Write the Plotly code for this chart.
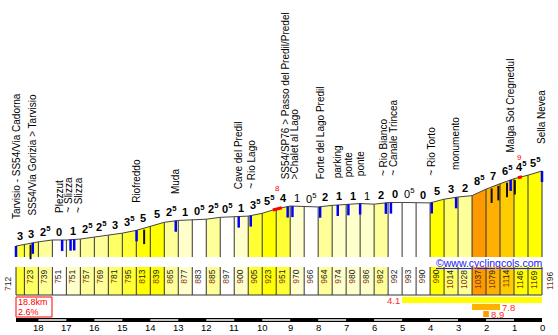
import numpy as np
import plotly.graph_objects as go

# ---------------- data ----------------
km = [18.8, 18.5, 18.0, 17.5, 17.0, 16.5, 16.0, 15.5, 15.0, 14.5, 14.0, 13.5, 13.0,
      12.5, 12.0, 11.5, 11.0, 10.5, 10.0, 9.5, 9.0, 8.5, 8.0, 7.5, 7.0, 6.5, 6.0,
      5.5, 5.0, 4.5, 4.0, 3.5, 3.0, 2.5, 2.0, 1.5, 1.0, 0.5, 0.0]
elev = [712, 723, 739, 751, 751, 757, 769, 781, 795, 813, 839, 865, 877, 883, 885,
        897, 900, 905, 923, 951, 970, 966, 964, 974, 980, 986, 982, 992, 993, 990,
        990, 1014, 1028, 1037, 1079, 1114, 1146, 1169, 1196]
grad_shown = [3, 3, 2.5, 0, 1, 2.5, 2.5, 3, 3.5, 5, 5, 2.5, 1, 0.5, 2.5, 0.5, 1,
              3.5, 5.5, 4, 1, 0.5, 2, 1, 1, 1, 2, 0, 0.5, 0, 5, 3, 2, 8.5, 7, 6.5,
              4.5, 5.5]
poi_names = ["Tarvisio - SS54/Via Cadorna", "SS54/Via Gorizia > Tarvisio", "Plezzut",
             "~ Slizza", "~ Slizza", "Riofreddo", "Muda", "Cave del Predil", "~ Rio Lago",
             "SS54/SP76 > Passo del Predil/Predel", ">Chalet al Lago",
             "Forte del Lago Predil", "parking", "ponte", "ponte", "~ Rio Bianco",
             "~ Canale Trincea", "~ Rio Torto", "monumento", "Malga Sot Cregnedul",
             "Sella Nevea"]
poi_km = [18.8, 18.2, 17.15, 16.85, 16.72, 14.49, 13.09, 10.84, 10.41, 9.09, 8.92,
          7.93, 7.30, 6.92, 6.50, 5.58, 5.40, 3.94, 3.07, 1.12, 0.0]
mark_km = [18.28, 14.22, 1.80, 1.56, 1.25, 0.97]
steep_from = [9.62, 0.86]
steep_to = [9.30, 0.72]
steep_pct = [8, 9]
climb_from = [5.0, 2.5, 2.1]
climb_to = [0.0, 1.5, 1.9]
climb_pct = [4.1, 7.8, 8.9]
total_km = 18.8
avg_pct = 2.6
km_ticks = list(range(18, -1, -1))

# ---------------- layout helpers ----------------
W, H = 558, 335
PX_KM = 27.98
XR = [km[0] + 16 / PX_KM, km[-1] - 16 / PX_KM]
YR = [138, 2299]
MPP = (YR[1] - YR[0]) / H          # metres per pixel
BASE = YR[0] + (H - 257) * MPP      # bottom of profile columns

km_inc = km[::-1]
el_inc = elev[::-1]


def ev(k):
    return float(np.interp(k, km_inc, el_inc))


def grad_color(g):
    g = abs(g)
    if g < 0.7:
        return "#FFFFFF"
    if g < 1.5:
        return "#FFFFCC"
    if g < 2.6:
        return "#FFFF99"
    if g < 3.4:
        return "#FFFF66"
    if g < 4.0:
        return "#FFFF33"
    if g < 6.0:
        return "#FFFF00"
    if g < 6.8:
        return "#FFCC00"
    if g < 7.9:
        return "#FFB000"
    return "#FF9900"


nseg = len(km) - 1
seg_grad = [(elev[i + 1] - elev[i]) / ((km[i] - km[i + 1]) * 10) for i in range(nseg)]
seg_col = [grad_color(g) for g in seg_grad]

fig = go.Figure()

# profile columns grouped by colour
by_col = {}
for i in range(nseg):
    by_col.setdefault(seg_col[i], []).append(i)
for col, idx in by_col.items():
    xs, ys, xs2, ys2 = [], [], [], []
    for i in idx:
        k0, k1 = km[i], km[i + 1]
        xs += [k0, k0, k1, k1, k0, None]
        ys += [BASE, elev[i], elev[i + 1], BASE, BASE, None]
        xs2 += [k0, k0, k1, k1, k0, None]
        ys2 += [267, 295, 295, 267, 267, None]
    fig.add_trace(go.Scatter(x=xs, y=ys, fill="toself", fillcolor=col, mode="none",
                             hoverinfo="skip"))
    fig.add_trace(go.Scatter(x=xs2, y=ys2, yaxis="y2", fill="toself", fillcolor=col,
                             mode="none", hoverinfo="skip"))

# column borders
bx, by, bx2, by2 = [], [], [], []
for k, e in zip(km, elev):
    bx += [k, k, None]
    by += [BASE, e, None]
    bx2 += [k, k, None]
    by2 += [267, 295, None]
fig.add_trace(go.Scatter(x=bx, y=by, mode="lines", line=dict(color="#333333", width=1),
                         hoverinfo="skip"))
fig.add_trace(go.Scatter(x=bx2 + [km[0], km[-1]], y=by2 + [295, 295], yaxis="y2",
                         mode="lines", line=dict(color="#333333", width=1), hoverinfo="skip"))

# profile outline
fig.add_trace(go.Scatter(x=km, y=elev, mode="lines", line=dict(color="#444444", width=1),
                         hoverinfo="skip"))

# steepest stretches (red)
for f, t in zip(steep_from, steep_to):
    pts = [f] + [k for k in km if t < k < f] + [t]
    fig.add_trace(go.Scatter(x=pts, y=[ev(p) for p in pts], mode="lines",
                             line=dict(color="#FF0000", width=3), hoverinfo="skip"))

# POI markers (blue)
mx, my = [], []
for k in poi_km:
    e = ev(k)
    mx += [k, k, None]
    my += [e, e - 11 * MPP, None]
fig.add_trace(go.Scatter(x=mx, y=my, mode="lines", line=dict(color="#0000FF", width=2.5),
                         hoverinfo="skip"))
# black markers
kx, ky = [], []
for k in mark_km:
    e = ev(k)
    kx += [k, k, None]
    ky += [e - 1.5 * MPP, e - 16 * MPP, None]
fig.add_trace(go.Scatter(x=kx, y=ky, mode="lines", line=dict(color="#111111", width=2),
                         hoverinfo="skip"))

# climb summary bars
rows = [(297, 303), (304, 310), (311, 317)]
ann = []
for f, t, p, (y0, y1) in zip(climb_from, climb_to, climb_pct, rows):
    fig.add_trace(go.Scatter(x=[f, f, t, t, f], y=[y0, y1, y1, y0, y0], yaxis="y2",
                             fill="toself", fillcolor=grad_color(p), mode="none",
                             hoverinfo="skip"))
    if t <= km[-1]:
        ann.append(dict(x=f, y=(y0 + y1) / 2, yref="y2", xanchor="right", yanchor="middle",
                        xshift=-1, text=f"{p}", borderpad=0,
                        font=dict(color="#FF2A2A", size=9.5, family="Liberation Sans")))
    else:
        ann.append(dict(x=t, y=(y0 + y1) / 2, yref="y2", xanchor="left", yanchor="middle",
                        xshift=1, text=f"{p}", borderpad=0,
                        font=dict(color="#FF2A2A", size=9.5, family="Liberation Sans")))

# km bar
fig.add_trace(go.Scatter(x=[km[0], km[0], km[-1], km[-1], km[0]],
                         y=[318, 322, 322, 318, 318], yaxis="y2", fill="toself",
                         fillcolor="#000000", mode="none", hoverinfo="skip"))
wx, wy = [], []
for a in range(18, 0, -2):
    wx += [a, a, a - 1, a - 1, a, None]
    wy += [319.2, 320.8, 320.8, 319.2, 319.2, None]
fig.add_trace(go.Scatter(x=wx, y=wy, yaxis="y2", fill="toself", fillcolor="#FFFFFF",
                         mode="none", hoverinfo="skip"))

# ---------------- annotations ----------------
# gradient labels
for i in range(nseg):
    g = grad_shown[i]
    ip = int(g)
    txt = f"{ip}<sup>5</sup>" if g - ip > 0.25 else f"{ip}"
    desc = elev[i + 1] < elev[i]
    if not desc:
        txt = f"<b>{txt}</b>"
    ann.append(dict(x=(km[i] + km[i + 1]) / 2, y=max(elev[i], elev[i + 1]),
                    yanchor="bottom", xanchor="center", yshift=0, text=txt,
                    font=dict(size=11, color="#000000", family="Liberation Sans")))

# place labels with simple de-overlap
lab_x = list(poi_km)
gap = 9.5 / PX_KM
for _ in range(30):
    for j in range(len(lab_x) - 1):
        d = lab_x[j] - lab_x[j + 1]
        if d < gap:
            s = (gap - d) / 2
            lab_x[j] += s
            lab_x[j + 1] -= s
for name, k, lx in zip(poi_names, poi_km, lab_x):
    ann.append(dict(x=lx, y=ev(k), yanchor="bottom", xanchor="center", yshift=25,
                    textangle=-90, text=name,
                    font=dict(size=10, color="#000000", family="Liberation Sans")))

# max gradient labels
for f, t, p in zip(steep_from, steep_to, steep_pct):
    c = (f + t) / 2
    ann.append(dict(x=c, y=ev(c), yanchor="middle", xanchor="center", yshift=20,
                    text=f"{p}", font=dict(size=8, color="#FF0000", family="Liberation Sans")))

# elevation labels
n = len(km)
for j, (k, e) in enumerate(zip(km, elev)):
    s = str(e)
    txt = f"<span style='color:#8B3A1A'>{s[:-2]}</span>{s[-2:]}"
    if j == 0:
        xs, yt = -8, 275
    elif j == n - 1:
        xs, yt = 7.5, 269
    else:
        xs, yt = 5.5, 268
    ann.append(dict(x=k, y=yt, yref="y2", yanchor="top", xanchor="center", xshift=xs,
                    textangle=-90, text=txt,
                    font=dict(size=8.5, color="#222222", family="Liberation Sans")))

# km tick labels
for t in km_ticks:
    ann.append(dict(x=t, y=327, yref="y2", yanchor="middle", xanchor="center",
                    text=str(t), font=dict(size=9.5, color="#000000", family="Liberation Sans")))

# total box (frame + two lines of text)
box_right = km[0] - 36 / PX_KM
fig.add_trace(go.Scatter(x=[km[0], km[0], box_right, box_right, km[0]],
                         y=[297, 317, 317, 297, 297], yaxis="y2", mode="lines",
                         line=dict(color="#FF0000", width=1), hoverinfo="skip"))
ann.append(dict(x=km[0], y=301.5, yref="y2", xanchor="left", yanchor="middle", xshift=1,
                text=f"{total_km}km", borderpad=0,
                font=dict(size=9, color="#FF0000", family="Liberation Sans")))
ann.append(dict(x=km[0], y=311.5, yref="y2", xanchor="left", yanchor="middle", xshift=1,
                text=f"{avg_pct}%", borderpad=0,
                font=dict(size=9, color="#FF0000", family="Liberation Sans")))

# copyright
ann.append(dict(x=545 / W, xref="paper", y=263, yref="y2", xanchor="right", yanchor="middle",
                text="<u>©www.cyclingcols.com</u>",
                font=dict(size=10.5, color="#2020FF", family="Liberation Sans")))

for a in ann:
    a.setdefault("xref", "x")
    a.setdefault("yref", "y")
    a["showarrow"] = False

fig.update_layout(
    width=W, height=H, margin=dict(l=0, r=0, t=0, b=0),
    paper_bgcolor="#FFFFFF", plot_bgcolor="#FFFFFF", showlegend=False,
    xaxis=dict(range=XR, visible=False, showgrid=False, zeroline=False),
    yaxis=dict(range=YR, visible=False, showgrid=False, zeroline=False),
    yaxis2=dict(range=[H, 0], overlaying="y", visible=False, showgrid=False, zeroline=False),
    annotations=ann,
)
fig.write_html("out.html")
